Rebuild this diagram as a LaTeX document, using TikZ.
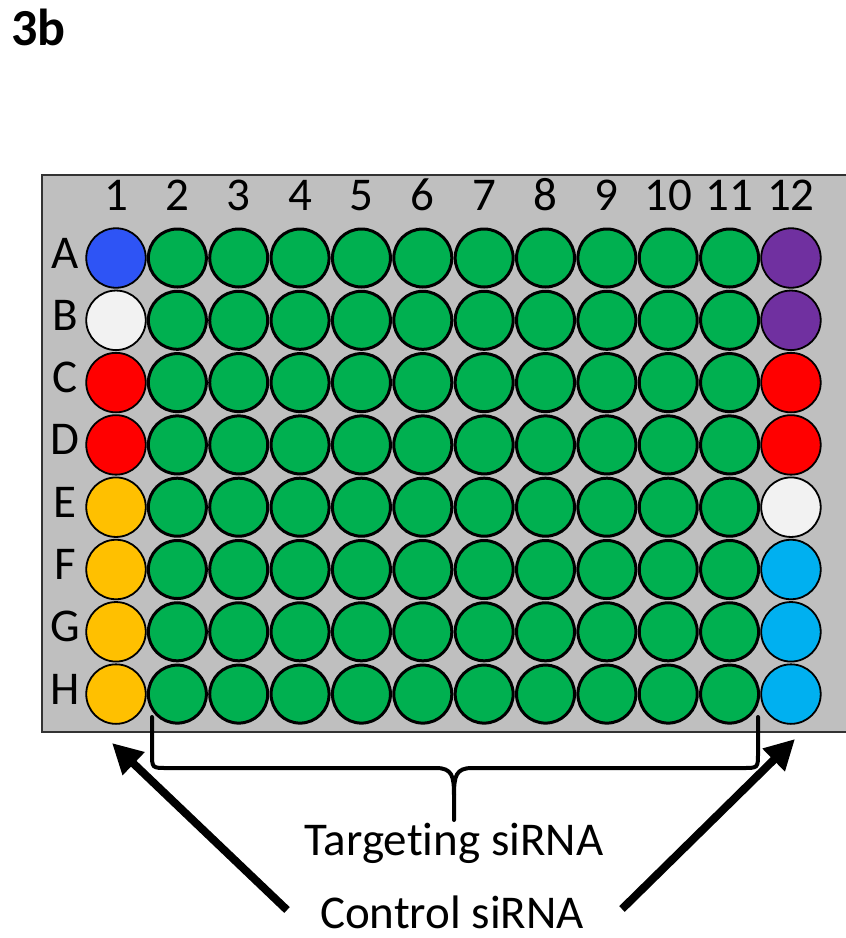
\documentclass[tikz,border=0pt]{standalone}
\usepackage{fontspec}
\setmainfont{Carlito}[Ligatures={NoCommon}]
\usetikzlibrary{arrows.meta}
\definecolor{plategray}{HTML}{BFBFBF}
\definecolor{wgreen}{HTML}{00B050}
\definecolor{wblue}{HTML}{2E54F5}
\definecolor{wwhite}{HTML}{F2F2F2}
\definecolor{wred}{HTML}{FF0000}
\definecolor{worange}{HTML}{FFC000}
\definecolor{wpurple}{HTML}{7030A0}
\definecolor{wlblue}{HTML}{00B0F0}
\tikzset{
  wellg/.style={circle, draw=black, line width=3pt, fill=wgreen, minimum size=58pt, inner sep=0pt},
  wellc/.style={circle, draw=black, line width=1.8pt, minimum size=59.5pt, inner sep=0pt},
  lab/.style={font=\fontsize{47}{52}\selectfont, inner sep=0pt, anchor=base},
  bigarrow/.style={line width=8pt, -{Triangle[length=30pt,width=30pt]}},
  bracepath/.style={line width=4pt, line cap=round, line join=round}
}
\begin{document}
\begin{tikzpicture}[x=1pt,y=-1pt]
\useasboundingbox (0,0) rectangle (846,938);
\node[font=\bfseries\fontsize{52}{56}\selectfont, inner sep=0pt, anchor=base west] (title) at (11,45) {3b};
% plate
\path[fill=plategray, draw=black!80, line width=1.5pt] (42,175) rectangle (860,732);
% column labels
\foreach \c in {1,...,12} {
  \node[lab] (col\c) at ({116+(\c-1)*61.36},210) {\c};
}
% row labels
\foreach \r/\L in {1/A,2/B,3/C,4/D,5/E,6/F,7/G,8/H} {
  \node[lab] (row\L) at (65,{258+(\r-1)*62.3+10}) {\L};
}
% green wells
\foreach \r in {1,...,8} {
  \foreach \c in {2,...,11} {
    \node[wellg] (w\r-\c) at ({116+(\c-1)*61.36},{258+(\r-1)*62.3}) {};
  }
}
% column 1
\foreach \r/\col in {1/wblue,2/wwhite,3/wred,4/wred,5/worange,6/worange,7/worange,8/worange} {
  \node[wellc, fill=\col] (w\r-1) at (116,{258+(\r-1)*62.3}) {};
}
% column 12
\foreach \r/\col in {1/wpurple,2/wpurple,3/wred,4/wred,5/wwhite,6/wlblue,7/wlblue,8/wlblue} {
  \node[wellc, fill=\col] (w\r-12) at ({116+11*61.36},{258+(\r-1)*62.3}) {};
}
% brace
\coordinate (bl) at (152,717);
\coordinate (br) at (758,717);
\coordinate (bt) at (454,820);
\draw[bracepath] (bl) -- (152,753) .. controls (152,768) .. (167,768) -- (436,768)
  .. controls (452,768) and (454,776) .. (454,795) -- (bt);
\draw[bracepath] (br) -- (758,753) .. controls (758,768) .. (743,768) -- (472,768)
  .. controls (456,768) and (454,776) .. (454,795);
% texts
\node[lab] (target) at (454,855) {Targeting siRNA};
\node[lab] (control) at (452,928) {Control siRNA};
% arrows
\coordinate (al) at (287,910);
\coordinate (alt) at (112,743);
\coordinate (ar) at (622,909);
\coordinate (art) at (795,739);
\draw[bigarrow] (al) -- (alt);
\draw[bigarrow] (ar) -- (art);
\end{tikzpicture}
\end{document}
